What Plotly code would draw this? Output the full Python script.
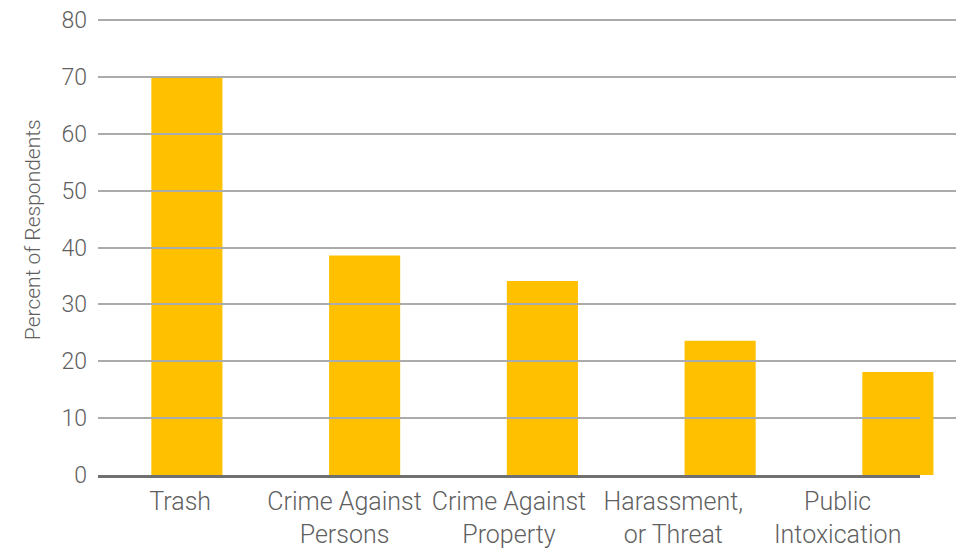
import plotly.graph_objects as go

categories = ["Trash", "Crime Against<br>Persons", "Crime Against<br>Property",
              "Harassment,<br>or Threat", "Public<br>Intoxication"]
values = [70.0, 38.6, 34.1, 23.6, 18.1]
y_ticks = [0, 10, 20, 30, 40, 50, 60, 70, 80]
y_title = "Percent of Respondents"

FONT = "Roboto, sans-serif"
TEXT = "#5f5f5f"
idx = list(range(len(categories)))

fig = go.Figure()
fig.add_trace(go.Bar(x=idx, y=values, marker=dict(color="#FFC000", line=dict(width=0)),
                     width=0.4, xaxis="x", yaxis="y", hovertext=categories, hoverinfo="text+y"))
# helper trace carrying the category axis labels
fig.add_trace(go.Scatter(x=idx, y=[0] * len(idx), mode="markers",
                         marker=dict(opacity=0), xaxis="x2", yaxis="y", hoverinfo="skip",
                         showlegend=False))

fig.update_layout(
    width=956, height=546,
    margin=dict(l=90, r=0, t=11, b=79),
    paper_bgcolor="white", plot_bgcolor="rgba(0,0,0,0)",
    showlegend=False,
    font=dict(family=FONT, color=TEXT, weight=300),
    xaxis=dict(domain=[0, 1], range=[-0.5, 4.372], automargin=False,
               showticklabels=False, showgrid=False, zeroline=False, showline=False,
               anchor="y"),
    xaxis2=dict(domain=[0, 0.949], range=[-0.5, 4.5], anchor="y", automargin=False,
                tickmode="array", tickvals=idx, ticktext=categories, tickangle=0,
                showgrid=False, zeroline=False, showline=True, linecolor="#707070",
                linewidth=3, ticks="", ticklabelstandoff=2,
                tickfont=dict(size=25, color=TEXT, family=FONT, weight=300)),
    yaxis=dict(range=[0, 80.2], tickvals=y_ticks, showgrid=True, gridcolor="#ABABAB",
               gridwidth=1.5, zeroline=False, showline=False, ticks="", automargin=False,
               ticklabelstandoff=10, ticklabeloverflow="allow",
               tickfont=dict(size=23, color=TEXT, family=FONT, weight=300)),
    annotations=[dict(text=y_title, textangle=-90, xref="paper", yref="paper",
                      x=(25 - 90) / 866, y=0.537, xanchor="center", yanchor="middle",
                      showarrow=False, font=dict(size=21, color=TEXT, family=FONT, weight=300))],
)

fig.write_html("out.html")
